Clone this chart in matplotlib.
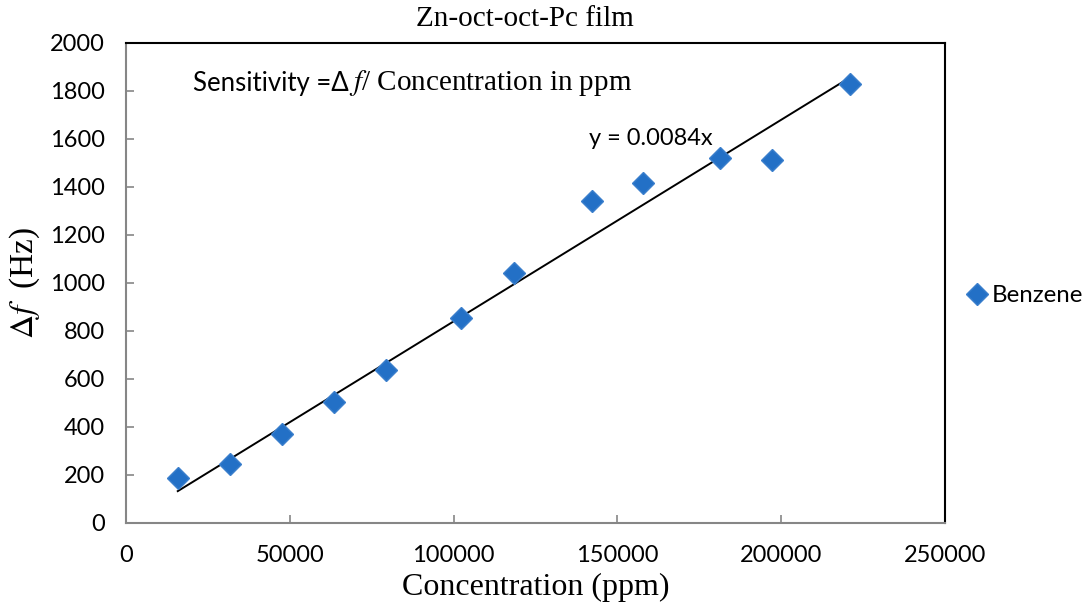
# Zn-oct-oct-Pc film: frequency shift vs benzene concentration
import numpy as np
import matplotlib
matplotlib.use("Agg")
import matplotlib.pyplot as plt

conc_ppm = [15800, 31700, 47600, 63400, 79300, 102400, 118300, 142100, 157900, 181400, 197300, 221000]
delta_f = [187, 246, 371, 504, 637, 854, 1042, 1342, 1417, 1521, 1512, 1829]
slope = 0.0084
series_name = "Benzene"

xticks = [0, 50000, 100000, 150000, 200000, 250000]
yticks = [0, 200, 400, 600, 800, 1000, 1200, 1400, 1600, 1800, 2000]

sans = "Lato"
serif = "Liberation Serif"
plt.rcParams["mathtext.fontset"] = "stix"

fig = plt.figure(figsize=(10.89, 6.07), dpi=100)
ax = fig.add_axes([0.1157, 0.1384, 0.7521, 0.7908])

ax.plot(conc_ppm, delta_f, "D", color="#2370c6", markeredgecolor="#3b7fcc",
        markersize=11, label=series_name, zorder=3)
fit_x = np.array([min(conc_ppm), max(conc_ppm)])
ax.plot(fit_x, slope * fit_x, color="black", lw=1.4, zorder=2)

ax.set_xlim(0, 250000)
ax.set_ylim(0, 2000)
ax.set_xticks(xticks)
ax.set_yticks(yticks)
ax.set_xticklabels([str(v) for v in xticks], fontfamily=sans, fontsize=17)
ax.set_yticklabels([str(v) for v in yticks], fontfamily=sans, fontsize=17)
ax.tick_params(axis="both", direction="in", length=6, color="#868686", width=1.2)
ax.tick_params(axis="x", pad=16)
ax.tick_params(axis="y", pad=15)

for side in ["left", "bottom"]:
    ax.spines[side].set_color("#868686")
    ax.spines[side].set_linewidth(1.5)
for side in ["top", "right"]:
    ax.spines[side].set_color("black")
    ax.spines[side].set_linewidth(1.5)

fig.text(0.482, 0.968, "Zn-oct-oct-Pc film", fontfamily=serif, fontsize=21,
         ha="center", va="center")
fig.text(0.492, 0.033, "Concentration (ppm)", fontfamily=serif, fontsize=23,
         ha="center", va="center")
fig.text(0.023, 0.534, r"$\Delta f$  (Hz)", fontfamily=serif, fontsize=24,
         ha="center", va="center", rotation=90)

# annotation: sans part then serif part
t1 = ax.text(0.082, 0.916, "Sensitivity =\u0394", transform=ax.transAxes,
             fontfamily=sans, fontsize=18.5, va="center", ha="left")
ax.annotate(r"$f$/ Concentration in ppm", xy=(1, 0.5), xycoords=t1,
            va="center", ha="left", fontfamily=serif, fontsize=21)

ax.text(0.565, 0.800, "y = 0.0084x", transform=ax.transAxes,
        fontfamily=sans, fontsize=17, va="center", ha="left")

ax.legend(loc="center left", bbox_to_anchor=(1.01, 0.473), frameon=False,
          prop={"family": sans, "size": 17.3}, handletextpad=0.0,
          borderaxespad=0, handlelength=1.2)

fig.savefig("out.png", dpi=100)
